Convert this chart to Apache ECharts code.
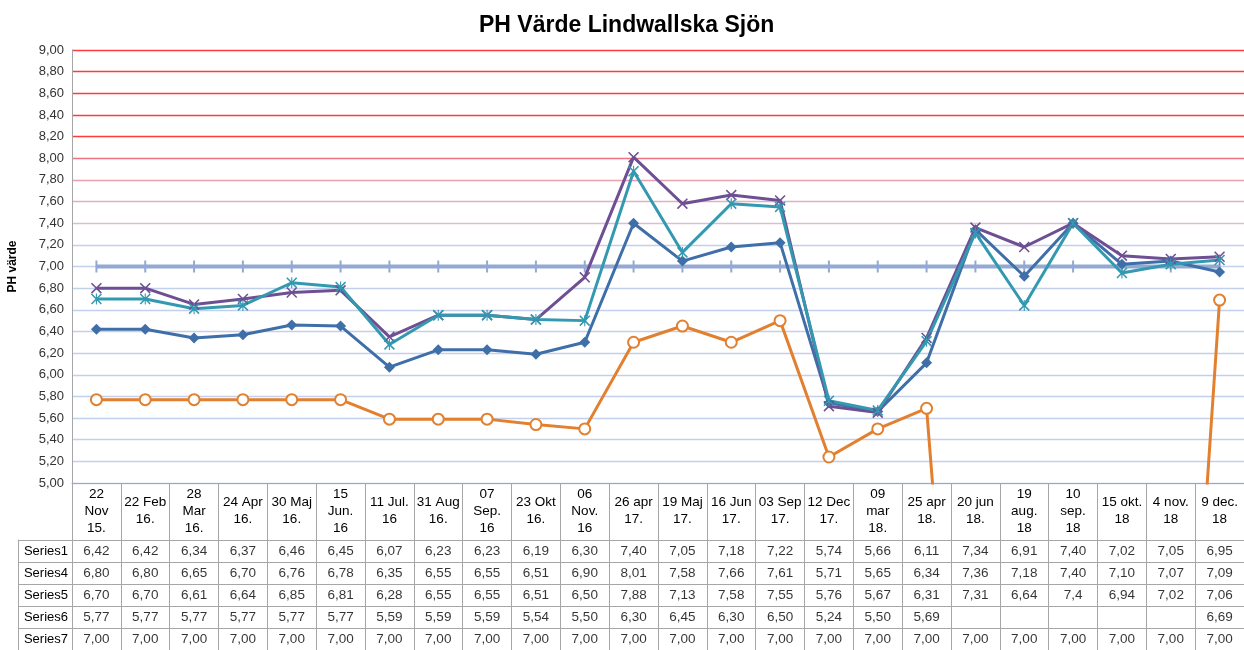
<!DOCTYPE html>
<html>
<head>
<meta charset="utf-8">
<script src="https://cdn.jsdelivr.net/npm/echarts@6/dist/echarts.min.js"></script>
<style>
html, body { margin: 0; padding: 0; background: #fff; }
#chart { width: 1244px; height: 650px; }
</style>
</head>
<body>
<div id="chart"></div>
<script>
var categories = [
  "22\nNov\n15.", "22 Feb\n16.", "28\nMar\n16.", "24 Apr\n16.", "30 Maj\n16.", "15\nJun.\n16",
  "11 Jul.\n16", "31 Aug\n16.", "07\nSep.\n16", "23 Okt\n16.", "06\nNov.\n16", "26 apr\n17.",
  "19 Maj\n17.", "16 Jun\n17.", "03 Sep\n17.", "12 Dec\n17.", "09\nmar\n18.", "25 apr\n18.",
  "20 jun\n18.", "19\naug.\n18", "10\nsep.\n18", "15 okt.\n18", "4 nov.\n18", "9 dec.\n18"
];
var rowNames = ["Series1", "Series4", "Series5", "Series6", "Series7"];

var series1 = [6.42, 6.42, 6.34, 6.37, 6.46, 6.45, 6.07, 6.23, 6.23, 6.19, 6.30, 7.40, 7.05, 7.18, 7.22, 5.74, 5.66, 6.11, 7.34, 6.91, 7.40, 7.02, 7.05, 6.95];
var series4 = [6.80, 6.80, 6.65, 6.70, 6.76, 6.78, 6.35, 6.55, 6.55, 6.51, 6.90, 8.01, 7.58, 7.66, 7.61, 5.71, 5.65, 6.34, 7.36, 7.18, 7.40, 7.10, 7.07, 7.09];
var series5 = [6.70, 6.70, 6.61, 6.64, 6.85, 6.81, 6.28, 6.55, 6.55, 6.51, 6.50, 7.88, 7.13, 7.58, 7.55, 5.76, 5.67, 6.31, 7.31, 6.64, 7.4, 6.94, 7.02, 7.06];
var series6 = [5.77, 5.77, 5.77, 5.77, 5.77, 5.77, 5.59, 5.59, 5.59, 5.54, 5.50, 6.30, 6.45, 6.30, 6.50, 5.24, 5.50, 5.69, null, null, null, null, null, 6.69];
var series7 = [7.00, 7.00, 7.00, 7.00, 7.00, 7.00, 7.00, 7.00, 7.00, 7.00, 7.00, 7.00, 7.00, 7.00, 7.00, 7.00, 7.00, 7.00, 7.00, 7.00, 7.00, 7.00, 7.00, 7.00];

// cells shown without the trailing zero in the source table: [row, column]
var shortCells = [[2, 20]];

var yTicks = { min: 5, max: 9, step: 0.2 };

var FONT = "Liberation Sans";
var GRID_LINE = "#a6a6a6";

function fmt(v, row, col) {
  var short = shortCells.some(function (c) { return c[0] === row && c[1] === col; });
  return (short ? String(v) : v.toFixed(2)).replace(".", ",");
}

// gridline colours from 5,00 up to 9,00
var splitColors = [];
for (var i = 0; i <= 20; i++) {
  var v = 5 + i * 0.2;
  if (v < 7.3) splitColors.push("#c3d0ec");
  else if (v < 7.5) splitColors.push("#d9bfd6");
  else if (v < 7.7) splitColors.push("#e2b0c0");
  else if (v < 7.9) splitColors.push("#e8a0b0");
  else if (v < 8.1) splitColors.push("#f07282");
  else splitColors.push("#ff3b3b");
}

var tableRows = [series1, series4, series5, series6, series7];
var tableCells = [];
tableRows.forEach(function (arr, r) {
  arr.forEach(function (v, c) {
    if (v !== null) tableCells.push({ value: [c, rowNames[r]], text: fmt(v, r, c) });
  });
});

var xMark = "path://M0,1 L1,0 L10,9 L9,10 Z M9,0 L10,1 L1,10 L0,9 Z";
var starMark = "path://M0,1 L1,0 L10,9 L9,10 Z M9,0 L10,1 L1,10 L0,9 Z M4.5,0 L5.5,0 L5.5,10 L4.5,10 Z";

var chart = echarts.init(document.getElementById("chart"));
chart.setOption({
  animation: false,
  textStyle: { fontFamily: FONT },
  title: {
    text: "PH Värde Lindwallska Sjön",
    left: 474,
    top: 9,
    textStyle: { fontFamily: FONT, fontWeight: "bold", fontSize: 23, color: "#000" }
  },
  grid: [
    { left: 72, right: 0, top: 50, height: 433, outerBoundsMode: "none" },
    { left: 72, right: 0, top: 540, height: 110, outerBoundsMode: "none" }
  ],
  xAxis: [
    {
      gridIndex: 0,
      type: "category",
      data: categories,
      axisLine: { show: true, lineStyle: { color: GRID_LINE, width: 1 } },
      axisTick: { show: true, interval: 0, length: 57, lineStyle: { color: GRID_LINE } },
      axisLabel: {
        interval: 0, margin: 28, verticalAlign: "middle", fontSize: 13.5,
        lineHeight: 17, color: "#000", fontFamily: FONT
      }
    },
    {
      gridIndex: 1,
      type: "category",
      data: categories,
      axisLine: { show: true, lineStyle: { color: GRID_LINE } },
      axisTick: { show: false },
      axisLabel: { show: false },
      splitLine: { show: true, interval: 0, lineStyle: { color: GRID_LINE } }
    }
  ],
  yAxis: [
    {
      gridIndex: 0,
      type: "value",
      min: yTicks.min,
      max: yTicks.max,
      interval: yTicks.step,
      name: "PH värde",
      nameLocation: "middle",
      nameGap: 53,
      nameTextStyle: { fontFamily: FONT, fontWeight: "bold", fontSize: 12, color: "#000" },
      axisLine: { show: true, lineStyle: { color: GRID_LINE } },
      axisTick: { show: false },
      axisLabel: {
        fontSize: 13, color: "#333", margin: 8, fontFamily: FONT,
        formatter: function (v) { return v.toFixed(2).replace(".", ","); }
      },
      splitLine: { show: true, lineStyle: { color: splitColors, width: 1.3 } }
    },
    {
      gridIndex: 1,
      type: "category",
      data: rowNames,
      inverse: true,
      axisLine: { show: true, lineStyle: { color: GRID_LINE } },
      axisTick: { show: true, interval: 0, length: 54, lineStyle: { color: GRID_LINE } },
      axisLabel: { interval: 0, margin: 4, fontSize: 13, color: "#000", fontFamily: FONT },
      splitLine: { show: true, interval: 0, lineStyle: { color: GRID_LINE } }
    },
    {
      gridIndex: 1,
      type: "category",
      data: rowNames,
      inverse: true,
      position: "left",
      offset: 54,
      axisLine: { show: true, lineStyle: { color: GRID_LINE } },
      axisTick: { show: false },
      axisLabel: { show: false }
    }
  ],
  series: [
    {
      name: "Series7",
      type: "line",
      data: series7,
      lineStyle: { color: "#93a9d4", width: 4 },
      itemStyle: { color: "#93a9d4" },
      symbol: "rect",
      symbolSize: [2, 12],
      z: 1
    },
    {
      name: "Series6",
      type: "line",
      // blank cells are plotted as zero, as in the source chart
      data: series6.map(function (v) { return v === null ? 0 : v; }),
      lineStyle: { color: "#e2802f", width: 3 },
      itemStyle: { color: "#e2802f", borderColor: "#e2802f", borderWidth: 1.5 },
      symbol: "emptyCircle",
      symbolSize: 11,
      clip: true
    },
    {
      name: "Series1",
      type: "line",
      data: series1,
      lineStyle: { color: "#3f6fa8", width: 3 },
      itemStyle: { color: "#3f6fa8" },
      symbol: "diamond",
      symbolSize: 11
    },
    {
      name: "Series4",
      type: "line",
      data: series4,
      lineStyle: { color: "#6f4f93", width: 3 },
      itemStyle: { color: "#6f4f93" },
      symbol: xMark,
      symbolSize: 11
    },
    {
      name: "Series5",
      type: "line",
      data: series5,
      lineStyle: { color: "#3399b0", width: 3 },
      itemStyle: { color: "#3399b0" },
      symbol: starMark,
      symbolSize: 11
    },
    {
      name: "table",
      type: "scatter",
      xAxisIndex: 1,
      yAxisIndex: 1,
      symbolSize: 1,
      itemStyle: { color: "transparent" },
      data: tableCells,
      label: {
        show: true,
        position: "inside",
        fontSize: 13.5,
        color: "#000",
        fontFamily: FONT,
        formatter: function (p) { return p.data.text; }
      },
      silent: true
    }
  ]
});
</script>
</body>
</html>
